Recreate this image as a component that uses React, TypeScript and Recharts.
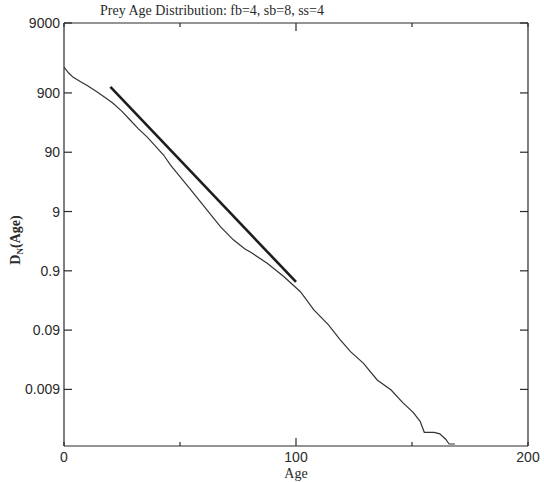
import React from "react";
import { LineChart, Line, XAxis, YAxis, ReferenceLine } from "recharts";

// thin curve: prey age distribution
const ages = [
  0, 2, 4, 7, 10, 14, 18, 21, 25, 28.5, 32, 36, 40, 43, 46, 50, 55.8, 61.6, 67.4,
  73, 78, 80.5, 87.6, 94.7, 101.9, 107.7, 114, 119, 123.5, 129, 135, 141, 146,
  150.5, 153.5, 155.3, 159.5, 162, 164.5, 166, 168.5,
];
const density = [
  2450, 1950, 1650, 1400, 1200, 950, 740, 610, 440, 315, 225, 160, 108, 80, 54,
  35, 18.3, 9.6, 5.0, 3.0, 2.1, 1.85, 1.21, 0.72, 0.4, 0.197, 0.11, 0.062, 0.039,
  0.025, 0.013, 0.0088, 0.0054, 0.0037, 0.0026, 0.0017, 0.0017, 0.0016, 0.0013,
  0.00108, 0.00108,
];

// straight fit line
const fitAges = [20, 100];
const fitValues = [1135, 0.585];

const xTicks = [0, 50, 100, 150, 200];
const xTickLabels = ["0", "", "100", "", "200"];
const yTicks = [0.009, 0.09, 0.9, 9, 90, 900, 13600];
const yTickLabels = ["0.009", "0.09", "0.9", "9", "90", "900", "9000"];

const W = 544;
const H = 482;
const PLOT_LEFT = 64;
const PLOT_RIGHT = 528;
const PLOT_TOP = 23;
const PLOT_BOTTOM = 446;
const INK = "#2a2a2a";

const curveData = ages.map((age, i) => ({ age, d: density[i] }));
const fitData = fitAges.map((age, i) => ({ age, d: fitValues[i] }));

function XTick(props: any) {
  const { x, payload, index } = props;
  const label = xTickLabels[index] ?? "";
  const len = payload.value === 100 ? 8 : 4;
  return (
    <g>
      <line x1={x} x2={x} y1={PLOT_BOTTOM} y2={PLOT_BOTTOM - len} stroke={INK} strokeWidth={1.2} />
      <line x1={x} x2={x} y1={PLOT_TOP} y2={PLOT_TOP + len} stroke={INK} strokeWidth={1.2} />
      {label && (
        <text
          x={x}
          y={PLOT_BOTTOM + 16}
          textAnchor="middle"
          fontFamily="Liberation Sans, Arial, sans-serif"
          fontSize={14}
          fill={INK}
        >
          {label}
        </text>
      )}
    </g>
  );
}

function YTick(props: any) {
  const { y, index } = props;
  return (
    <g>
      <line x1={PLOT_LEFT} x2={PLOT_LEFT + 8} y1={y} y2={y} stroke={INK} strokeWidth={1.2} />
      <line x1={PLOT_RIGHT} x2={PLOT_RIGHT - 8} y1={y} y2={y} stroke={INK} strokeWidth={1.2} />
      <text
        x={PLOT_LEFT - 4}
        y={y + 5}
        textAnchor="end"
        fontFamily="Liberation Sans, Arial, sans-serif"
        fontSize={14}
        fill={INK}
      >
        {yTickLabels[index]}
      </text>
    </g>
  );
}

export default function App() {
  return (
    <div style={{ position: "absolute", left: 0, top: 0, width: W, height: H, background: "#fff" }}>
      <LineChart
        width={W}
        height={H}
        margin={{ top: PLOT_TOP, right: W - PLOT_RIGHT, bottom: 0, left: 0 }}
      >
        <text
          x={100}
          y={15}
          fontFamily="Liberation Serif, serif"
          fontSize={14}
          fill={INK}
        >
          Prey Age Distribution: fb=4, sb=8, ss=4
        </text>
        <text
          x={296}
          y={478}
          textAnchor="middle"
          fontFamily="Liberation Serif, serif"
          fontSize={14}
          fill={INK}
        >
          Age
        </text>
        <text
          transform="translate(20, 240) rotate(-90)"
          textAnchor="middle"
          fontFamily="Liberation Serif, serif"
          fontSize={14}
          fontWeight="bold"
          fill={INK}
        >
          D<tspan fontSize={9} dy={3}>N</tspan>
          <tspan dy={-3}>(Age)</tspan>
        </text>
        <XAxis
          dataKey="age"
          type="number"
          domain={[0, 200]}
          ticks={xTicks}
          height={H - PLOT_BOTTOM}
          tickLine={false}
          tick={<XTick />}
          axisLine={{ stroke: INK, strokeWidth: 1.2 }}
          allowDataOverflow
        />
        <YAxis
          dataKey="d"
          scale="log"
          domain={[0.001, 13600]}
          ticks={yTicks}
          width={PLOT_LEFT}
          tickLine={false}
          tick={<YTick />}
          axisLine={{ stroke: INK, strokeWidth: 1.2 }}
          allowDataOverflow
        />
        <ReferenceLine y={13600} stroke={INK} strokeWidth={1.2} />
        <ReferenceLine x={200} stroke={INK} strokeWidth={1.2} />
        <Line
          data={curveData}
          dataKey="d"
          type="linear"
          stroke="#333"
          strokeWidth={1.2}
          dot={false}
          activeDot={false}
          isAnimationActive={false}
        />
        <Line
          data={fitData}
          dataKey="d"
          type="linear"
          stroke="#1e1e1e"
          strokeWidth={2.6}
          dot={false}
          activeDot={false}
          isAnimationActive={false}
        />
      </LineChart>
    </div>
  );
}
